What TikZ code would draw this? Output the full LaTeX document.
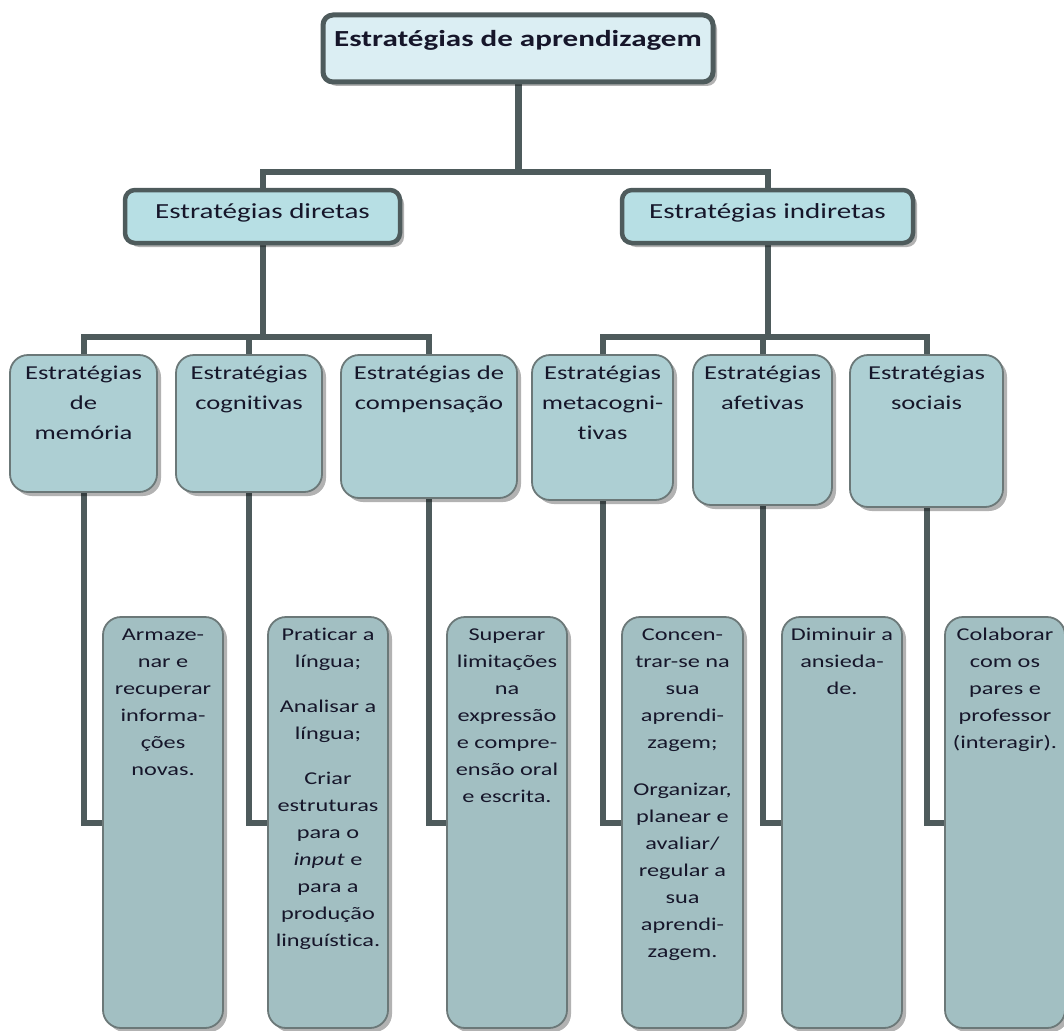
\documentclass[tikz,border=0pt]{standalone}
\usepackage{fontspec}
\setmainfont{Carlito}[FakeStretch=1.35,Ligatures=NoCommon]
\usetikzlibrary{shadows,backgrounds}
\definecolor{lineC}{HTML}{4E5B5C}
\definecolor{topF}{HTML}{DBEEF3}
\definecolor{secF}{HTML}{B7DFE4}
\definecolor{thrF}{HTML}{ADCFD3}
\definecolor{botF}{HTML}{A2BFC2}
\definecolor{thinB}{HTML}{6B7878}
\definecolor{txt}{HTML}{16162A}
\newcommand\bxt[4]{\parbox[c][#2][t]{#1}{\centering\vspace*{#3}\rule{0pt}{20pt}#4\par}}
\begin{document}
\begin{tikzpicture}[x=1pt,y=-1pt,
 shad/.style={drop shadow={shadow xshift=4pt,shadow yshift=-4pt,fill=black,opacity=0.3}},
 basebox/.style={inner sep=0pt,outer sep=0pt,anchor=north west,text=txt},
 topbox/.style={basebox,draw=lineC,line width=5pt,fill=topF,rounded corners=10pt,shad,font=\bfseries\fontsize{23}{28}\selectfont},
 secbox/.style={basebox,draw=lineC,line width=4.5pt,fill=secF,rounded corners=10pt,shad,font=\fontsize{21.5}{26}\selectfont},
 thrbox/.style={basebox,draw=thinB,line width=1.8pt,fill=thrF,rounded corners=18pt,shad,font=\fontsize{19.7}{30}\selectfont},
 botbox/.style={basebox,draw=thinB,line width=1.8pt,fill=botF,rounded corners=18pt,shad,font=\fontsize{18}{27}\selectfont},
 conn/.style={draw=lineC,line width=6pt}]
\useasboundingbox (0,0) rectangle (1064,1030);
% level 1
\node[topbox] (top) at (323,15) {\bxt{390pt}{67pt}{12pt}{Estratégias de aprendizagem}};
% level 2
\node[secbox] (dir) at (125,190) {\bxt{275pt}{53pt}{8pt}{Estratégias diretas}};
\node[secbox] (ind) at (622,190) {\bxt{291pt}{53pt}{8pt}{Estratégias indiretas}};
% level 3
\node[thrbox] (mem) at (10,355) {\bxt{147pt}{137pt}{4pt}{Estratégias\\de\\memória}};
\node[thrbox] (cog) at (176,355) {\bxt{146pt}{137pt}{4pt}{Estratégias\\cognitivas}};
\node[thrbox] (comp) at (341,355) {\bxt{176pt}{143pt}{4pt}{Estratégias de\\compensação}};
\node[thrbox] (meta) at (532,355) {\bxt{141pt}{145pt}{4pt}{Estratégias\\metacogni-\\tivas}};
\node[thrbox] (afet) at (693,355) {\bxt{139pt}{150pt}{4pt}{Estratégias\\afetivas}};
\node[thrbox] (soc) at (850,355) {\bxt{153pt}{152pt}{4pt}{Estratégias\\sociais}};
% level 4
\node[botbox] (arm) at (103,617) {\bxt{120pt}{411pt}{3pt}{Armaze-\\nar e\\recuperar\\informa-\\ções\\novas.}};
\node[botbox] (prat) at (268,617) {\bxt{120pt}{411pt}{3pt}{Praticar a\\língua;\\[18pt]Analisar a\\língua;\\[18pt]Criar\\estruturas\\para o\\\textit{input} e\\para a\\produção\\linguística.}};
\node[botbox] (sup) at (447,617) {\bxt{120pt}{411pt}{3pt}{Superar\\limitações\\na\\expressão\\e compre-\\ensão oral\\e escrita.}};
\node[botbox] (conc) at (622,617) {\bxt{121pt}{411pt}{3pt}{Concen-\\trar-se na\\sua\\aprendi-\\zagem;\\[20pt]Organizar,\\planear e\\avaliar/\\regular a\\sua\\aprendi-\\zagem.}};
\node[botbox] (dim) at (782,617) {\bxt{120pt}{411pt}{3pt}{Diminuir a\\ansieda-\\de.}};
\node[botbox] (col) at (945,617) {\bxt{120pt}{411pt}{3pt}{Colaborar\\com os\\pares e\\professor\\(interagir).}};
% connectors
\coordinate (bus1) at (518,172);
\coordinate (bus2) at (262.5,337);
\coordinate (bus3) at (767.5,337);
\begin{scope}[on background layer]
\draw[conn,line width=7pt] (top.south) -- (bus1);
\draw[conn] (dir.north) |- (bus1) -| (ind.north);
\draw[conn] (dir.south) -- (bus2);
\draw[conn] (mem.north) |- (bus2) -| (comp.north);
\draw[conn] (cog.north) -- (cog.north |- bus2);
\draw[conn] (ind.south) -- (bus3);
\draw[conn] (meta.north) |- (bus3) -| (soc.north);
\draw[conn] (afet.north) -- (afet.north |- bus3);
\draw[conn] (mem.south) |- (arm.west);
\draw[conn] (cog.south) |- (prat.west);
\draw[conn] (comp.south) |- (sup.west);
\draw[conn] (meta.south) |- (conc.west);
\draw[conn] (afet.south) |- (dim.west);
\draw[conn] (soc.south) |- (col.west);
\end{scope}
\end{tikzpicture}
\end{document}
